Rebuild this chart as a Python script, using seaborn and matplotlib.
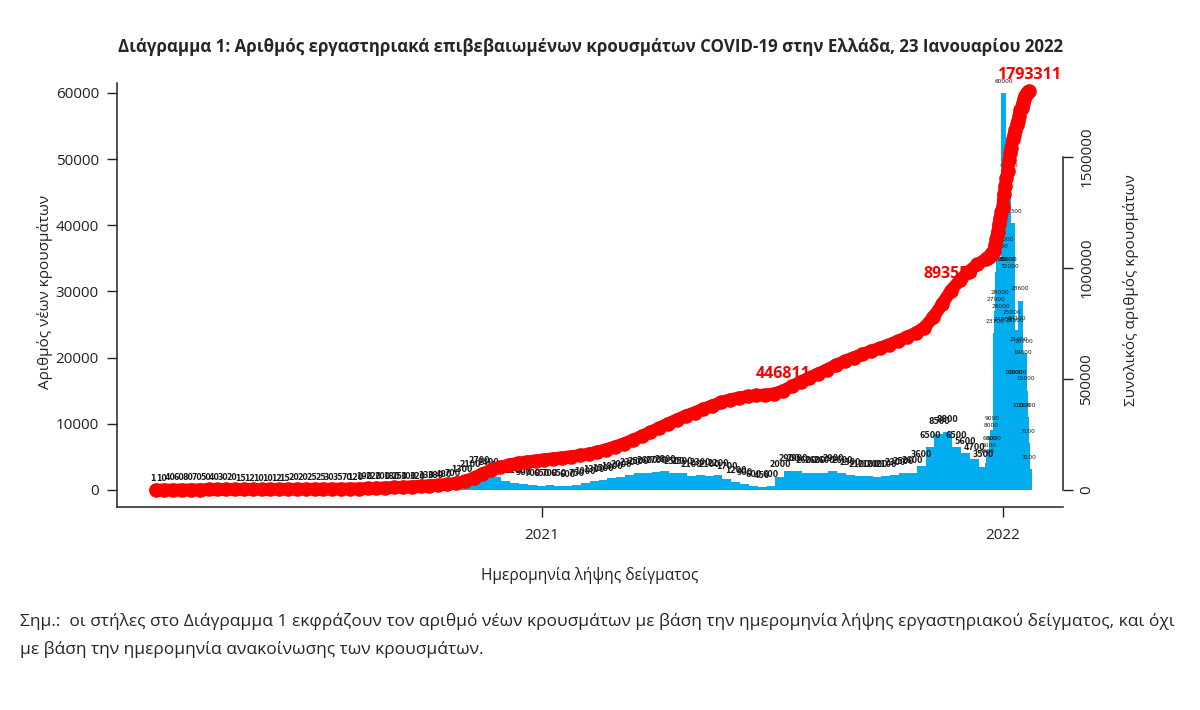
import numpy as np
import pandas as pd
import matplotlib
matplotlib.use("Agg")
import matplotlib.pyplot as plt
import matplotlib.dates as mdates
import seaborn as sns

# mean daily new cases per week (weeks starting Monday 2020-02-24 .. 2021-12-13)
week_start = pd.date_range("2020-02-24", periods=95, freq="7D")
week_cases = [
    1, 10, 40, 60, 80, 70, 50, 40, 30, 20, 15, 12, 10, 10, 12, 15, 20, 20, 25, 25, 30, 35,
    70, 120, 190, 220, 200, 180, 250, 300, 320, 330, 380, 480, 700,
    1300, 2100, 2700, 2400, 1900, 1400, 1100, 900, 700, 650,
    700, 650, 600, 750, 1000, 1300, 1500, 1800, 2000, 2300, 2500, 2600, 2700,
    2800, 2500, 2500, 2100, 2300, 2100, 2200, 1700, 1200, 900, 600, 450, 600, 2000,
    2900, 2900, 2600, 2600, 2600, 2900, 2600, 2300, 2100, 2100, 2000, 2100,
    2300, 2500, 2600, 3600, 6500, 8500, 8800,
    6500, 5600, 4700, 3500,
]

# daily new cases, 2021-12-20 .. 2022-01-22
day_dates = pd.date_range("2021-12-20", "2022-01-22", freq="D")
day_cases = [
    4000, 5000, 6000, 8000, 9000, 6000, 23700, 27000, 33000, 35000, 28000, 26000,
    24000, 60000, 36000, 33000, 33000, 47300, 32000, 25000, 40300, 16000,
    23800, 24100, 16000, 21000, 28600, 11000, 19000, 20700, 15000, 11000, 7100, 3100,
]

cum_label_dates = ["2021-07-11", "2021-11-21", "2022-01-22"]
cum_label_text = ["446811", "893555", "1793311"]

title = ("Διάγραμμα 1: Αριθμός εργαστηριακά επιβεβαιωμένων κρουσμάτων "
         "COVID-19 στην Ελλάδα, 23 Ιανουαρίου 2022")
note1 = ("Σημ.:  οι στήλες στο Διάγραμμα 1 εκφράζουν τον αριθμό νέων κρουσμάτων με βάση "
         "την ημερομηνία λήψης εργαστηριακού δείγματος, και όχι")
note2 = "με βάση την ημερομηνία ανακοίνωσης των κρουσμάτων."

BLUE = "#00AEEF"
RED = "#FF0000"

sns.set_style("ticks")
plt.rcParams["font.family"] = ["Open Sans", "Noto Sans", "DejaVu Sans"]

fig = plt.figure(figsize=(12, 7.1), dpi=100)
ax = fig.add_axes([0.0975, 0.286, 0.788, 0.597])
ax2 = ax.twinx()

# bars
wx = mdates.date2num(week_start)
ax.bar(wx, week_cases, width=7, align="edge", color=BLUE, linewidth=0)
dx = mdates.date2num(day_dates)
ax.bar(dx, day_cases, width=4, color=BLUE, linewidth=0)

# tiny value labels above bars
for x, v in zip(wx + 3.5, week_cases):
    ax.annotate(str(v), (x, v), xytext=(0, 8.5), textcoords="offset points",
                ha="center", va="center", fontsize=5.6, fontweight="bold",
                color="#1a1a1a", family=["DejaVu Sans"])
for x, v in zip(dx, day_cases):
    ax.annotate(str(v), (x, v), xytext=(0, 8.5), textcoords="offset points",
                ha="center", va="center", fontsize=4.2,
                color="#1a1a1a", family=["DejaVu Sans"])

# cumulative cases
week_cum = np.cumsum(np.array(week_cases) * 7)
day_cum = week_cum[-1] + np.cumsum(day_cases)
cum_df = pd.DataFrame({
    "x": np.concatenate([wx + 6, dx]),
    "cum": np.concatenate([week_cum, day_cum]),
})
sns.lineplot(data=cum_df, x="x", y="cum", ax=ax2, color=RED, linewidth=9,
             solid_capstyle="round", zorder=2)
sns.scatterplot(data=cum_df, x="x", y="cum", ax=ax2, color=RED, s=110,
                linewidth=0, zorder=2)
for d, t in zip(cum_label_dates, cum_label_text):
    xd = mdates.date2num(pd.Timestamp(d))
    yv = cum_df.loc[np.isclose(cum_df["x"], xd), "cum"].iloc[0]
    ax2.annotate(t, (xd, yv), xytext=(0, 6), textcoords="offset points",
                 ha="center", va="bottom", fontsize=11.5, fontweight="bold",
                 color=RED, zorder=1, family=["Open Sans", "DejaVu Sans"])

# axes limits
x0 = mdates.date2num(pd.Timestamp("2020-01-30 12:00"))
x1 = mdates.date2num(pd.Timestamp("2022-02-17 12:00"))
ax.set_xlim(x0, x1)
ax.set_ylim(-2570, 61480)
ax2.set_ylim(-76500, 1833500)

ax.set_xticks(mdates.date2num([pd.Timestamp("2021-01-01"), pd.Timestamp("2022-01-01")]))
ax.set_xticklabels(["2021", "2022"])
ax.set_yticks(range(0, 60001, 10000))
ax.set_yticklabels([str(v) for v in range(0, 60001, 10000)])
ax2.set_yticks([0, 500000, 1000000, 1500000])
ax2.set_yticklabels(["0", "500000", "1000000", "1500000"], rotation=90, va="center")

ax.set_xlabel("")
ax.set_ylabel("")
ax2.set_xlabel("")
ax2.set_ylabel("")

for a in (ax, ax2):
    a.spines["top"].set_visible(False)
ax.spines["right"].set_visible(False)
ax2.spines["left"].set_visible(False)
ax2.spines["bottom"].set_visible(False)
ax2.spines["right"].set_bounds(0, 1500000)
for sp in ("left", "bottom"):
    ax.spines[sp].set_linewidth(1.1)
    ax.spines[sp].set_color("#222222")
ax2.spines["right"].set_linewidth(1.1)
ax2.spines["right"].set_color("#222222")

ax.tick_params(axis="y", length=7, width=1, pad=6, labelsize=11, colors="#222222")
ax.tick_params(axis="x", length=7, width=1, pad=8, labelsize=11, colors="#222222")
ax2.tick_params(axis="y", length=7, width=1, pad=5, labelsize=11, colors="#222222")

# texts
fig.text(0.4917, 1 - 47 / 710, title, ha="center", va="center",
         fontsize=12.2, fontweight="bold")
fig.text(0.4917, 1 - 575 / 710, "Ημερομηνία λήψης δείγματος",
         ha="center", va="center", fontsize=11.2, color="#222222")
fig.text(45 / 1200, 1 - 292 / 710, "Αριθμός νέων κρουσμάτων", rotation=90,
         ha="center", va="center", fontsize=11, color="#222222")
fig.text(1131 / 1200, 1 - 290 / 710, "Συνολικός αριθμός κρουσμάτων", rotation=90,
         ha="center", va="center", fontsize=11, color="#222222")
fig.text(20 / 1200, 1 - 622 / 710, note1, ha="left", va="center", fontsize=12.5)
fig.text(20 / 1200, 1 - 650 / 710, note2, ha="left", va="center", fontsize=12.5)

fig.savefig("out.png", dpi=100, facecolor="white")
